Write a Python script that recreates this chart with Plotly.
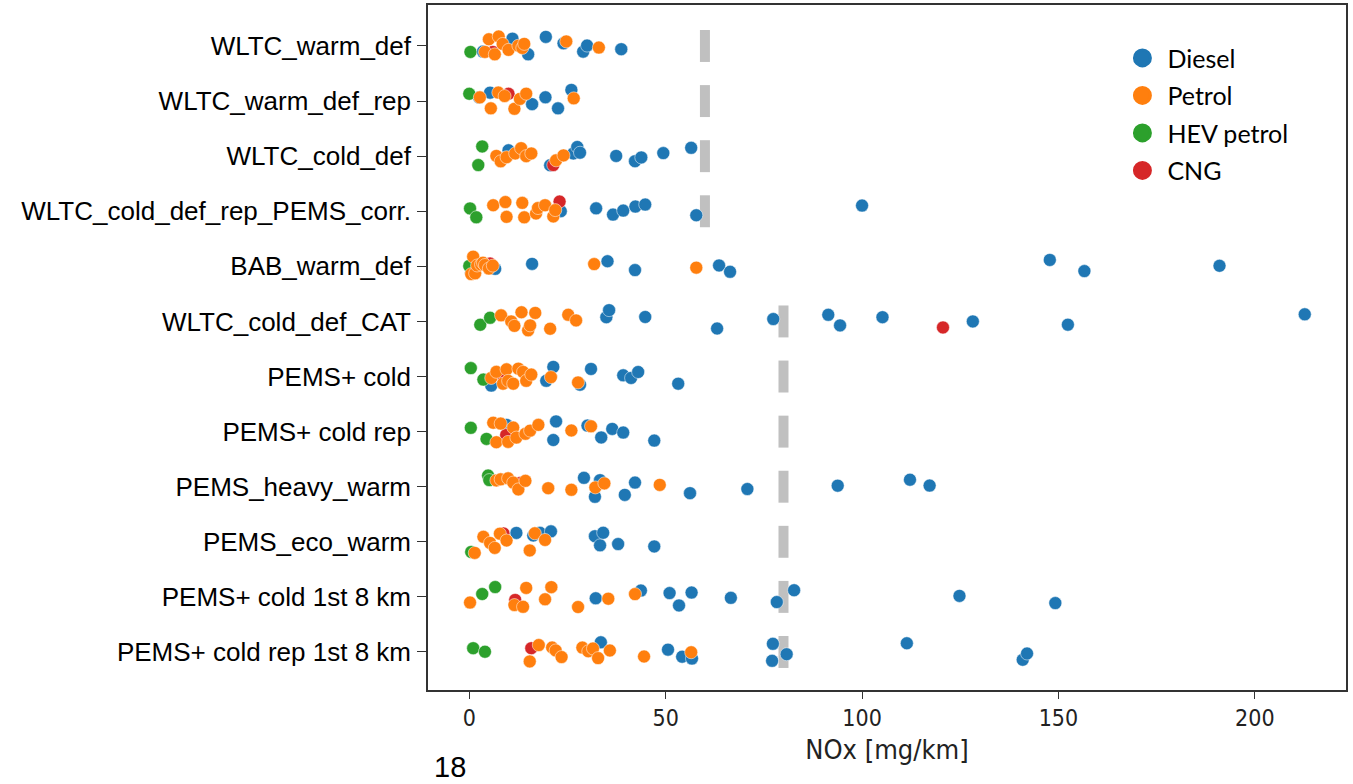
import plotly.graph_objects as go

categories = [
    "WLTC_warm_def",
    "WLTC_warm_def_rep",
    "WLTC_cold_def",
    "WLTC_cold_def_rep_PEMS_corr.",
    "BAB_warm_def",
    "WLTC_cold_def_CAT",
    "PEMS+ cold",
    "PEMS+ cold rep",
    "PEMS_heavy_warm",
    "PEMS_eco_warm",
    "PEMS+ cold 1st 8 km",
    "PEMS+ cold rep 1st 8 km",
]

diesel_values = [
    [3.5, 11, 15, 19.5, 24, 29, 30, 38.7],
    [2.5, 5.3, 16, 19.4, 22.6, 26],
    [10, 20.6, 26.5, 27.5, 28.2, 37.4, 42.2, 43.8, 49.4, 56.5],
    [23.3, 32.3, 36.6, 39.2, 42.3, 44.8, 57.8, 100],
    [0.5, 6.6, 16, 35.2, 42.2, 63.6, 66.4, 147.8, 156.6, 191],
    [34.9, 35.6, 44.8, 63.1, 77.4, 91.4, 94.4, 105.2, 128.2, 152.4, 212.7],
    [5.6, 19.6, 21.4, 28.2, 31, 39.2, 41.2, 43, 53.2],
    [9.5, 11, 21.4, 22.1, 30.1, 33.6, 36.4, 39.2, 47.1],
    [29.2, 32, 33.3, 39.6, 42.2, 56.2, 70.8, 93.8, 112.2, 117.2],
    [12, 16.3, 18, 20.8, 32, 33.3, 34.1, 37.9, 47.1],
    [32.2, 43.7, 51, 53.4, 56.6, 66.6, 78.3, 82.7, 124.8, 149.2],
    [33.5, 50.6, 54.2, 56.7, 77.1, 77.3, 80.8, 111.4, 140.9, 142],
]

petrol_values = [
    [4, 5, 6.5, 7.5, 8.5, 10, 12.5, 13.5, 14, 24.7, 33],
    [2.7, 5.5, 7.4, 9, 11.5, 12.9, 14.5, 26.6],
    [6.9, 8, 9.5, 11.7, 13.2, 14.5, 15.8, 22.1, 24],
    [6.1, 9.2, 9.5, 13.5, 14, 17, 17.5, 19.3, 21.4, 21.9],
    [0.5, 1, 1.5, 2, 3, 3.5, 4, 5, 6, 31.8, 57.8],
    [8.1, 10.7, 11.5, 13.3, 15, 15.5, 16.8, 20.6, 25.2, 27.2],
    [5.6, 6.9, 8.6, 9.5, 9.9, 11.2, 12.5, 13.7, 14.5, 15.8, 20.8, 27.7],
    [6.1, 6.9, 8, 9.9, 11.2, 12, 14.3, 15.5, 17.6, 26, 31],
    [6.9, 8, 9.9, 11.2, 12.5, 14.3, 20.1, 26, 32.1, 34.4, 48.5],
    [1.4, 3.6, 5.3, 6.5, 7.8, 9.5, 15.4, 16.7, 19.3],
    [0.2, 11.5, 13.7, 14.5, 19.3, 20.9, 27.7, 35.4, 42.2],
    [15.4, 17.7, 21.1, 22, 23.5, 28.8, 30.3, 31.5, 32.8, 35.8, 44.5, 56.5],
]

hev_values = [
    [0.3], [0], [2.3, 3.3], [0.2, 1.8], [0], [2.8, 5.3],
    [0.4, 3.6], [0.4, 4.4], [4.8, 5.1], [0.5], [3.3, 6.6], [1, 4],
]

cng_values = [
    [6], [10], [21.4], [23], [5.3], [120.6],
    [8.5], [9.4], [12.9], [8.7], [11.7], [15.8],
]

limits = [60, 60, 60, 60, None, 80, 80, 80, 80, 80, 80, 80]

fuel_names = ["Diesel", "Petrol", "HEV petrol", "CNG"]
fuel_colors = ["#1f77b4", "#ff7f0e", "#2ca02c", "#d62728"]
fuel_data = [diesel_values, petrol_values, hev_values, cng_values]

fig = go.Figure()

# drawing order: Diesel, CNG, HEV petrol, Petrol (petrol on top)
draw_order = [0, 3, 2, 1]
for k in draw_order:
    xs, ys = [], []
    for cat, vals in zip(categories, fuel_data[k]):
        xs.extend(vals)
        ys.extend([cat] * len(vals))
    fig.add_trace(go.Box(
        x=xs, y=ys, orientation="h", name=fuel_names[k],
        boxpoints="all", jitter=0.85, pointpos=0,
        fillcolor="rgba(0,0,0,0)",
        line=dict(color="rgba(0,0,0,0)", width=0),
        marker=dict(color=fuel_colors[k], size=13, opacity=1,
                    line=dict(color="white", width=0.5)),
        showlegend=False, hoveron="points",
    ))

# legend entries
for k in range(4):
    fig.add_trace(go.Scatter(
        x=[None], y=[None], mode="markers", name=fuel_names[k],
        legendgroup=fuel_names[k], legendrank=k + 1,
        marker=dict(color=fuel_colors[k], size=20,
                    line=dict(color=fuel_colors[k], width=3)),
    ))

for i, lim in enumerate(limits):
    if lim is None:
        continue
    fig.add_shape(type="line", xref="x", yref="y",
                  x0=lim, x1=lim, y0=i - 0.29, y1=i + 0.29,
                  line=dict(color="#c0c0c0", width=10), layer="below")

fig.add_annotation(text="18", xref="paper", yref="paper",
                   x=0.0235, y=-0.112, xanchor="center", yanchor="middle",
                   showarrow=False,
                   font=dict(family="Liberation Sans, Arial", size=29, color="black"))

fig.update_layout(
    width=1353, height=784,
    margin=dict(l=428, r=7, t=5, b=94),
    plot_bgcolor="white", paper_bgcolor="white",
    boxmode="overlay",
    showlegend=True,
    legend=dict(x=0.751, y=0.956, xanchor="left", yanchor="top",
                bgcolor="rgba(0,0,0,0)", borderwidth=0,
                font=dict(family="Lato, Liberation Sans", size=25, color="black"),
                traceorder="grouped", tracegroupgap=2, itemwidth=40),
    xaxis=dict(range=[-10.5, 223.2], tickvals=[0, 50, 100, 150, 200],
               automargin=False,
               ticks="outside", ticklen=7, tickcolor="#333", tickwidth=1.3,
               showline=True, mirror=True, linecolor="#333", linewidth=1.6,
               showgrid=False, zeroline=False,
               tickfont=dict(family="DejaVu Sans Condensed, DejaVu Sans", size=23, color="#222"),
               title=dict(text="NOx [mg/km]", standoff=10,
                          font=dict(family="DejaVu Sans Condensed, DejaVu Sans", size=27, color="#222"))),
    yaxis=dict(type="category", categoryorder="array", categoryarray=categories,
               range=[11.69, -0.744], automargin=False,
               ticks="outside", ticklen=9, tickcolor="#333", tickwidth=1.3,
               ticklabelstandoff=1,
               showline=True, mirror=True, linecolor="#333", linewidth=1.6,
               showgrid=False, zeroline=False,
               tickfont=dict(family="Liberation Sans, Arial", size=26, color="black")),
)

fig.write_html("out.html", config={"displayModeBar": False},
               post_script="document.body.style.margin='0px';")
